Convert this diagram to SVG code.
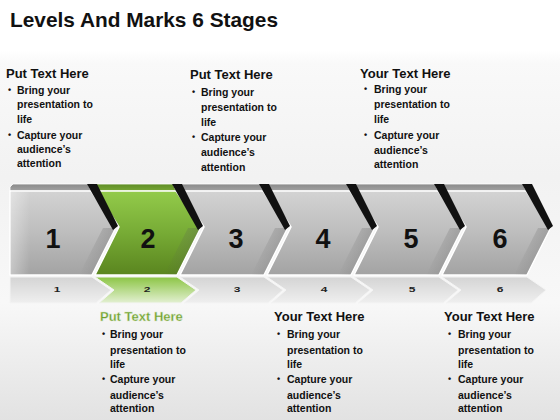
<svg xmlns="http://www.w3.org/2000/svg" width="560" height="420" viewBox="0 0 560 420">
<defs>
<linearGradient id="bg" x1="0" y1="0" x2="0" y2="1">
<stop offset="0" stop-color="#ffffff"/>
<stop offset="0.12" stop-color="#ffffff"/>
<stop offset="0.15" stop-color="#f9f9f9"/>
<stop offset="0.42" stop-color="#f2f2f2"/>
<stop offset="0.72" stop-color="#f8f8f8"/>
<stop offset="1" stop-color="#e2e2e2"/>
</linearGradient>
<linearGradient id="gFace" x1="0" y1="0" x2="0" y2="1">
<stop offset="0" stop-color="#d3d3d3"/>
<stop offset="0.5" stop-color="#bdbdbd"/>
<stop offset="1" stop-color="#a3a3a3"/>
</linearGradient>
<linearGradient id="grFace" x1="0" y1="0" x2="0" y2="1">
<stop offset="0" stop-color="#93cb4a"/>
<stop offset="0.5" stop-color="#77ab35"/>
<stop offset="1" stop-color="#5a851f"/>
</linearGradient>
<linearGradient id="gTop" x1="0" y1="0" x2="0" y2="1">
<stop offset="0" stop-color="#8a8a8a"/>
<stop offset="1" stop-color="#a2a2a2"/>
</linearGradient>
<linearGradient id="grTop" x1="0" y1="0" x2="0" y2="1">
<stop offset="0" stop-color="#5f8d25"/>
<stop offset="1" stop-color="#77a636"/>
</linearGradient>
<linearGradient id="shade" x1="0" y1="0" x2="1" y2="0">
<stop offset="0" stop-color="#555" stop-opacity="0"/>
<stop offset="1" stop-color="#555" stop-opacity="0.3"/>
</linearGradient>
<linearGradient id="gRef" x1="0" y1="0" x2="0" y2="1">
<stop offset="0" stop-color="#d4d4d4"/>
<stop offset="1" stop-color="#efefef"/>
</linearGradient>
<linearGradient id="grRef" x1="0" y1="0" x2="0" y2="1">
<stop offset="0" stop-color="#8cc545"/>
<stop offset="1" stop-color="#e3f0d2"/>
</linearGradient>
<linearGradient id="hl" x1="0" y1="0" x2="1" y2="0">
<stop offset="0" stop-color="#fff" stop-opacity="0.35"/>
<stop offset="1" stop-color="#fff" stop-opacity="0"/>
</linearGradient>
</defs>
<style>
.face{stroke:#ffffff;stroke-width:1.5;stroke-linejoin:round}
.top{stroke:#ffffff;stroke-width:0.8}
.stripe{fill:#111111}
.shade{fill:url(#shade)}
.ref{stroke:#f4f4f4;stroke-width:1}
.num{font-family:"Liberation Sans",Arial,sans-serif;font-weight:bold;font-size:27px;fill:#111;text-anchor:middle}
.rnum{font-family:"Liberation Sans",Arial,sans-serif;font-weight:bold;font-size:12px;fill:#222;text-anchor:middle}
.hd{font-family:"Liberation Sans",Arial,sans-serif;font-weight:bold;font-size:13px;fill:#111}
.hdg{font-family:"Liberation Sans",Arial,sans-serif;font-weight:bold;font-size:13px;fill:#6e9e2e;stroke:#dbe9c7;stroke-width:0.4}
.tx{font-family:"Liberation Sans",Arial,sans-serif;font-weight:bold;font-size:10.5px;fill:#111}
.bu{font-family:"Liberation Sans",Arial,sans-serif;font-weight:bold;font-size:9px;fill:#111}
.title{font-family:"Liberation Sans",Arial,sans-serif;font-weight:bold;font-size:21px;fill:#111}
</style>
<rect x="0" y="0" width="560" height="420" fill="url(#bg)"/>
<text class="title" x="10" y="27" textLength="268" lengthAdjust="spacingAndGlyphs">Levels And Marks 6 Stages</text>

<g id="stage6">
<polygon class="top" fill="url(#gTop)" points="441,184 523,184 526,191 443,191"/>
<polygon class="face" fill="url(#gFace)" points="443,191 526,191 551,227 527,275 442,275 466,227"/>
<polygon class="shade" points="550,228 526,275 514,275 538,228"/>
<polygon class="stripe" points="522,184 532,184 553,226 548,230"/>
<polygon class="ref" fill="url(#gRef)" points="442,277 527,277 546,290 531,303 446,303 461,290"/>
<text class="num" x="500" y="248">6</text>
<text class="rnum" transform="translate(500,292) scale(1,0.55)">6</text>
</g>
<g id="stage5">
<polygon class="top" fill="url(#gTop)" points="353,184 435,184 438,191 355,191"/>
<polygon class="face" fill="url(#gFace)" points="355,191 438,191 463,227 439,275 354,275 378,227"/>
<polygon class="shade" points="462,228 438,275 426,275 450,228"/>
<polygon class="stripe" points="434,184 444,184 465,226 460,230"/>
<polygon class="ref" fill="url(#gRef)" points="354,277 439,277 458,290 443,303 358,303 373,290"/>
<text class="num" x="411" y="248">5</text>
<text class="rnum" transform="translate(412,292) scale(1,0.55)">5</text>
</g>
<g id="stage4">
<polygon class="top" fill="url(#gTop)" points="266,184 347,184 350,191 268,191"/>
<polygon class="face" fill="url(#gFace)" points="268,191 350,191 375,227 351,275 267,275 291,227"/>
<polygon class="shade" points="374,228 350,275 338,275 362,228"/>
<polygon class="stripe" points="346,184 356,184 377,226 372,230"/>
<polygon class="ref" fill="url(#gRef)" points="267,277 351,277 370,290 355,303 271,303 286,290"/>
<text class="num" x="323" y="248">4</text>
<text class="rnum" transform="translate(324,292) scale(1,0.55)">4</text>
</g>
<g id="stage3">
<polygon class="top" fill="url(#gTop)" points="179,184 260,184 263,191 181,191"/>
<polygon class="face" fill="url(#gFace)" points="181,191 263,191 288,227 264,275 180,275 204,227"/>
<polygon class="shade" points="287,228 263,275 251,275 275,228"/>
<polygon class="stripe" points="259,184 269,184 290,226 285,230"/>
<polygon class="ref" fill="url(#gRef)" points="180,277 264,277 283,290 268,303 184,303 199,290"/>
<text class="num" x="236" y="248">3</text>
<text class="rnum" transform="translate(237,292) scale(1,0.55)">3</text>
</g>
<g id="stage2">
<polygon class="top" fill="url(#grTop)" points="94,184 173,184 176,191 96,191"/>
<polygon class="face" fill="url(#grFace)" points="96,191 176,191 201,227 177,275 95,275 119,227"/>
<polygon class="shade" points="200,228 176,275 164,275 188,228"/>
<polygon class="stripe" points="172,184 182,184 203,226 198,230"/>
<polygon class="ref" fill="url(#grRef)" points="95,277 177,277 196,290 181,303 99,303 114,290"/>
<text class="num" x="148" y="248">2</text>
<text class="rnum" transform="translate(147,292) scale(1,0.55)">2</text>
</g>
<g id="stage1">
<polygon class="top" fill="url(#gTop)" points="10,187 13,184 88,184 91,191 10,191"/>
<polygon class="face" fill="url(#gFace)" points="10,191 91,191 116,227 92,275 10,275"/>
<polygon fill="url(#hl)" points="11,192 30,192 30,274 11,274"/>
<polygon class="shade" points="115,228 91,275 79,275 103,228"/>
<polygon class="stripe" points="87,184 97,184 118,226 113,230"/>
<polygon class="ref" fill="url(#gRef)" points="10,277 92,277 111,290 96,303 10,303"/>
<text class="num" x="53" y="248">1</text>
<text class="rnum" transform="translate(57,292) scale(1,0.55)">1</text>
</g>

<g id="connectors"></g>

<g id="text-top-1">
<text class="hd" x="6" y="78">Put Text Here</text>
<text class="bu" x="8" y="93">•</text><text class="tx" x="17" y="94">Bring your</text>
<text class="tx" x="17" y="108">presentation to</text>
<text class="tx" x="17" y="123">life</text>
<text class="bu" x="8" y="138">•</text><text class="tx" x="17" y="139">Capture your</text>
<text class="tx" x="17" y="153">audience’s</text>
<text class="tx" x="17" y="167">attention</text>
</g>
<g id="text-top-2">
<text class="hd" x="190" y="79">Put Text Here</text>
<text class="bu" x="192" y="95">•</text><text class="tx" x="201" y="96">Bring your</text>
<text class="tx" x="201" y="111">presentation to</text>
<text class="tx" x="201" y="126">life</text>
<text class="bu" x="192" y="140">•</text><text class="tx" x="201" y="141">Capture your</text>
<text class="tx" x="201" y="156">audience’s</text>
<text class="tx" x="201" y="171">attention</text>
</g>
<g id="text-top-3">
<text class="hd" x="360" y="78">Your Text Here</text>
<text class="bu" x="364" y="92">•</text><text class="tx" x="374" y="93">Bring your</text>
<text class="tx" x="374" y="108">presentation to</text>
<text class="tx" x="374" y="123">life</text>
<text class="bu" x="364" y="138">•</text><text class="tx" x="374" y="139">Capture your</text>
<text class="tx" x="374" y="154">audience’s</text>
<text class="tx" x="374" y="168">attention</text>
</g>
<g id="text-bottom-1">
<text class="hdg" x="100" y="321">Put Text Here</text>
<text class="bu" x="102" y="337">•</text><text class="tx" x="110" y="338">Bring your</text>
<text class="tx" x="110" y="354">presentation to</text>
<text class="tx" x="110" y="368">life</text>
<text class="bu" x="102" y="382">•</text><text class="tx" x="110" y="383">Capture your</text>
<text class="tx" x="110" y="399">audience’s</text>
<text class="tx" x="110" y="412">attention</text>
</g>
<g id="text-bottom-2">
<text class="hd" x="274" y="321">Your Text Here</text>
<text class="bu" x="277" y="337">•</text><text class="tx" x="287" y="338">Bring your</text>
<text class="tx" x="287" y="354">presentation to</text>
<text class="tx" x="287" y="368">life</text>
<text class="bu" x="277" y="382">•</text><text class="tx" x="287" y="383">Capture your</text>
<text class="tx" x="287" y="399">audience’s</text>
<text class="tx" x="287" y="412">attention</text>
</g>
<g id="text-bottom-3">
<text class="hd" x="444" y="321">Your Text Here</text>
<text class="bu" x="448" y="337">•</text><text class="tx" x="458" y="338">Bring your</text>
<text class="tx" x="458" y="354">presentation to</text>
<text class="tx" x="458" y="368">life</text>
<text class="bu" x="448" y="382">•</text><text class="tx" x="458" y="383">Capture your</text>
<text class="tx" x="458" y="399">audience’s</text>
<text class="tx" x="458" y="412">attention</text>
</g>
</svg>
